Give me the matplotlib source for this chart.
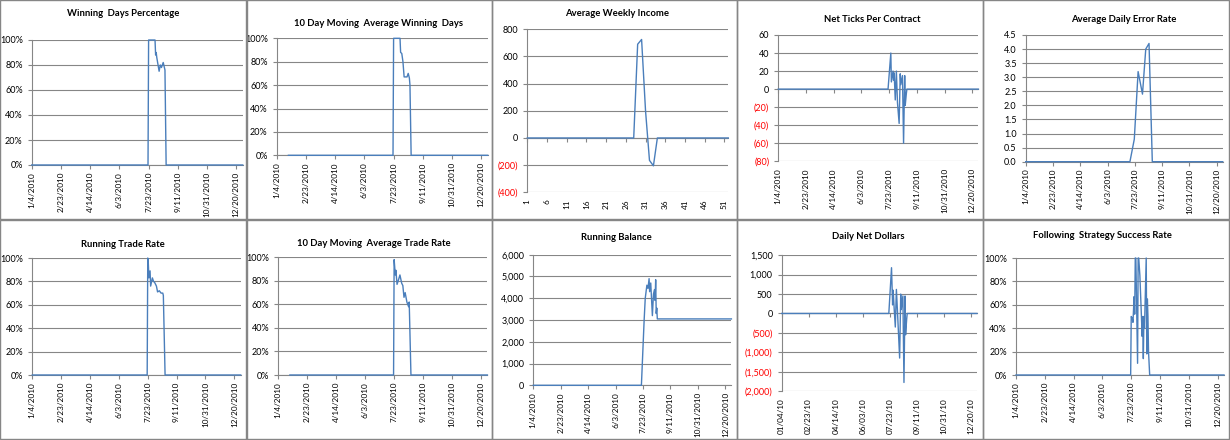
"""
Trading dashboard - ten small Excel-style line panels (2 x 5 grid)
"""

import pandas as pd
import matplotlib
matplotlib.use('Agg')
import matplotlib.pyplot as plt
from matplotlib.patches import Rectangle

plt.rcParams['font.family'] = ['Lato', 'DejaVu Sans']

W, H = 1230, 440
BLUE = '#4A7EBB'
GRID = '#868686'
RED = '#FF0000'
START, END = '2010-01-04', '2010-12-31'

# ── data ──────────────────────────────────────────────────
win_dates = ['2010-01-04', '2010-07-22', '2010-07-23', '2010-08-03', '2010-08-04',
             '2010-08-05', '2010-08-06', '2010-08-10', '2010-08-12', '2010-08-14',
             '2010-08-17', '2010-08-19', '2010-08-20', '2010-08-22', '2010-12-31']
win_pct = [0, 0, 1.00, 1.00, 0.88, 0.90, 0.86, 0.75, 0.80, 0.78, 0.82, 0.78, 0.76, 0, 0]

ma_win_dates = ['2010-01-24', '2010-07-22', '2010-07-23', '2010-08-03', '2010-08-04',
                '2010-08-06', '2010-08-08', '2010-08-10', '2010-08-15', '2010-08-17',
                '2010-08-19', '2010-08-20', '2010-08-22', '2010-12-31']
ma_win_pct = [0, 0, 1.00, 1.00, 0.88, 0.87, 0.80, 0.67, 0.67, 0.70, 0.66, 0.60, 0, 0]

weeks = list(range(1, 53))
weekly_income = [0, 0, 0, 0, 0, 0, 0, 0, 0, 0, 0, 0, 0, 0, 0, 0, 0, 0, 0, 0,
                 0, 0, 0, 0, 0, 0, 0, 0, 690, 725, 200, -165, -205, 0, 0, 0, 0, 0, 0, 0,
                 0, 0, 0, 0, 0, 0, 0, 0, 0, 0, 0, 0]

tick_dates = ['2010-01-04', '2010-07-21', '2010-07-26', '2010-07-27', '2010-07-30',
              '2010-07-31', '2010-08-01', '2010-08-03', '2010-08-05', '2010-08-07',
              '2010-08-10', '2010-08-12', '2010-08-13', '2010-08-16', '2010-08-18',
              '2010-08-20', '2010-08-21', '2010-08-23', '2010-08-24', '2010-12-31']
net_ticks = [0, 0, 40, 8, 20, 10, 18, -12, 20, -15, -38, 17, 5, 15, -60, 15, -18, -5, 0, 0]

error_dates = ['2010-01-04', '2010-07-14', '2010-07-22', '2010-07-29', '2010-08-06',
               '2010-08-12', '2010-08-18', '2010-08-24', '2010-12-31']
error_rate = [0, 0, 0.8, 3.2, 2.4, 4.0, 4.2, 0, 0]

trade_dates = ['2010-01-04', '2010-07-22', '2010-07-23', '2010-07-24', '2010-07-25',
               '2010-07-27', '2010-07-28', '2010-07-31', '2010-08-02', '2010-08-04',
               '2010-08-07', '2010-08-09', '2010-08-12', '2010-08-15', '2010-08-18',
               '2010-08-19', '2010-08-22', '2010-12-31']
trade_rate = [0, 0, 1.00, 0.95, 0.83, 0.89, 0.76, 0.83, 0.80, 0.79, 0.76, 0.71,
              0.72, 0.70, 0.70, 0.68, 0, 0]

ma_trade_dates = ['2010-01-24', '2010-07-22', '2010-07-23', '2010-07-25', '2010-07-26',
                  '2010-07-28', '2010-07-30', '2010-08-02', '2010-08-05', '2010-08-07',
                  '2010-08-09', '2010-08-11', '2010-08-14', '2010-08-17', '2010-08-18',
                  '2010-08-21', '2010-12-31']
ma_trade_rate = [0, 0, 0.98, 0.85, 0.89, 0.77, 0.80, 0.85, 0.78, 0.76, 0.66, 0.70,
                 0.62, 0.58, 0.62, 0, 0]

balance_dates = ['2010-01-04', '2010-07-20', '2010-07-25', '2010-07-27', '2010-07-30',
                 '2010-08-01', '2010-08-03', '2010-08-04', '2010-08-06', '2010-08-09',
                 '2010-08-11', '2010-08-13', '2010-08-14', '2010-08-15', '2010-08-16',
                 '2010-08-17', '2010-08-18', '2010-12-31']
balance = [0, 0, 3000, 4000, 4600, 4450, 4900, 4300, 4700, 3200, 4200, 4400, 3900,
           4850, 3300, 3550, 3050, 3050]

dollar_dates = ['2010-01-04', '2010-07-21', '2010-07-26', '2010-07-28', '2010-07-29',
                '2010-07-31', '2010-08-02', '2010-08-04', '2010-08-06', '2010-08-10',
                '2010-08-12', '2010-08-13', '2010-08-16', '2010-08-18', '2010-08-20',
                '2010-08-21', '2010-08-23', '2010-08-24', '2010-12-31']
net_dollars = [0, 0, 1180, 220, 600, 100, -350, 620, 50, -1150, 500, 100, 450,
               -1780, 450, -550, -150, 0, 0]

strat_dates = ['2010-01-04', '2010-07-22', '2010-07-23', '2010-07-25', '2010-07-26',
               '2010-07-28', '2010-07-29', '2010-07-30', '2010-07-31', '2010-08-03',
               '2010-08-04', '2010-08-05', '2010-08-07', '2010-08-11', '2010-08-12',
               '2010-08-13', '2010-08-14', '2010-08-15', '2010-08-18', '2010-08-19',
               '2010-08-20', '2010-08-21', '2010-08-22', '2010-08-24', '2010-12-31']
strat_rate = [0, 0, 0.50, 0.48, 0.45, 0.67, 0.52, 1.00, 1.00, 0.10, 1.00, 1.00, 0.85,
              0.33, 0.50, 0.14, 0.50, 0.40, 1.00, 0.18, 0.65, 0.50, 0.20, 0, 0]

pct_ticks = [0, 0.2, 0.4, 0.6, 0.8, 1.0]

XLAB = 5.9   # rotated date labels are a touch smaller than the y labels


def paren(v):
    return f"{v:,.0f}" if v >= 0 else f"({-v:,.0f})"


def px_rect(l, t, r, b):
    return [l / W, 1 - b / H, (r - l) / W, (b - t) / H]


def make_panel(fig, box, yticks, ylabels, zero_axis=False):
    ax = fig.add_axes(px_rect(*box))
    ax.set_ylim(yticks[0], yticks[-1])
    ax.set_yticks(yticks)
    ax.set_yticklabels(ylabels)
    ax.yaxis.grid(True, color=GRID, lw=0.8)
    ax.set_axisbelow(True)
    ax.patch.set_visible(False)
    for s in ('top', 'right'):
        ax.spines[s].set_visible(False)
    for s in ('left', 'bottom'):
        ax.spines[s].set_color(GRID)
        ax.spines[s].set_linewidth(0.8)
    ax.tick_params(colors=GRID, labelcolor='black', labelsize=6.5, length=3, width=0.8)
    ax.tick_params(axis='x', labelrotation=90, labelsize=XLAB, pad=2)
    for t, lab in zip(yticks, ax.get_yticklabels()):
        if t < 0:
            lab.set_color(RED)
    lab_ax = ax
    if zero_axis:
        ax.spines['bottom'].set_position(('data', 0))
        ax.tick_params(axis='x', labelbottom=False)
        lab_ax = fig.add_axes(px_rect(*box), sharex=ax)
        lab_ax.patch.set_visible(False)
        lab_ax.set_yticks([])
        for s in lab_ax.spines.values():
            s.set_visible(False)
        lab_ax.tick_params(axis='x', length=0, labelsize=XLAB, labelrotation=90, pad=5)
    return ax, lab_ax


def date_axis(ax, lab_ax, fmt):
    ticks = pd.date_range(START, periods=8, freq='50D')
    ax.set_xlim(pd.Timestamp(START), pd.Timestamp(END))
    ax.set_xticks(ticks)
    lab_ax.set_xticklabels([fmt(d) for d in ticks])


def us_date(d):
    return f"{d.month}/{d.day}/{d.year}"


def line(ax, x, y):
    ax.plot(x, y, color=BLUE, lw=1.0, clip_on=False, zorder=5)


fig = plt.figure(figsize=(W / 100, H / 100), dpi=100)
fig.patch.set_facecolor('white')

# panel frames
cols = [(0, 247), (246, 492), (492, 737), (737, 983), (983, 1229)]
rows = [(0, 219), (220, 439)]
for (t, b) in rows:
    for (l, r) in cols:
        fig.add_artist(Rectangle((l / W, 1 - b / H), (r - l) / W, (b - t) / H,
                                 transform=fig.transFigure, fill=False,
                                 ec=GRID, lw=1.0))

pct_labels = [f"{int(v * 100)}%" for v in pct_ticks]

# row 1 ------------------------------------------------------
ax, la = make_panel(fig, (31.7, 40, 242.7, 165), pct_ticks, pct_labels)
line(ax, pd.to_datetime(win_dates), win_pct)
date_axis(ax, la, us_date)

ax, la = make_panel(fig, (276.7, 38.3, 487.7, 155.3), pct_ticks, pct_labels)
line(ax, pd.to_datetime(ma_win_dates), ma_win_pct)
date_axis(ax, la, us_date)

inc_ticks = [-400, -200, 0, 200, 400, 600, 800]
ax, la = make_panel(fig, (527.3, 29.3, 728.3, 192.3), inc_ticks,
                    [paren(v) for v in inc_ticks], zero_axis=True)
line(ax, weeks, weekly_income)
ax.set_xlim(weeks[0], weeks[-1])
ax.set_xticks(weeks[::5])
la.set_xticklabels([str(w) for w in weeks[::5]])

nt_ticks = [-80, -60, -40, -20, 0, 20, 40, 60]
ax, la = make_panel(fig, (778.3, 35, 978.4, 161.3), nt_ticks,
                    [paren(v) for v in nt_ticks], zero_axis=True)
line(ax, pd.to_datetime(tick_dates), net_ticks)
date_axis(ax, la, us_date)

err_ticks = [0, 0.5, 1.0, 1.5, 2.0, 2.5, 3.0, 3.5, 4.0, 4.5]
ax, la = make_panel(fig, (1025.7, 35, 1222.7, 161.7), err_ticks,
                    [f"{v:.1f}" for v in err_ticks])
line(ax, pd.to_datetime(error_dates), error_rate)
date_axis(ax, la, us_date)

# row 2 ------------------------------------------------------
ax, la = make_panel(fig, (32.3, 258, 240.7, 375), pct_ticks, pct_labels)
line(ax, pd.to_datetime(trade_dates), trade_rate)
date_axis(ax, la, us_date)

ax, la = make_panel(fig, (278.3, 257.3, 487.4, 375), pct_ticks, pct_labels)
line(ax, pd.to_datetime(ma_trade_dates), ma_trade_rate)
date_axis(ax, la, us_date)

bal_ticks = [0, 1000, 2000, 3000, 4000, 5000, 6000]
ax, la = make_panel(fig, (533.3, 254.7, 731.4, 385.3), bal_ticks,
                    [paren(v) for v in bal_ticks])
line(ax, pd.to_datetime(balance_dates), balance)
date_axis(ax, la, us_date)

nd_ticks = [-2000, -1500, -1000, -500, 0, 500, 1000, 1500]
ax, la = make_panel(fig, (781.7, 255.3, 977, 391), nd_ticks,
                    [paren(v) for v in nd_ticks], zero_axis=True)
line(ax, pd.to_datetime(dollar_dates), net_dollars)
date_axis(ax, la, lambda d: d.strftime('%m/%d/%y'))

ax, la = make_panel(fig, (1016, 258, 1224, 375), pct_ticks, pct_labels)
line(ax, pd.to_datetime(strat_dates), strat_rate)
date_axis(ax, la, us_date)

# titles
titles = [("Winning  Days Percentage", 123, 13),
          ("10 Day Moving  Average Winning  Days", 379, 23),
          ("Average Weekly Income", 617, 14),
          ("Net Ticks Per Contract", 872, 19),
          ("Average Daily Error Rate", 1124, 19),
          ("Running Trade Rate", 123, 244),
          ("10 Day Moving  Average Trade Rate", 374, 243),
          ("Running Balance", 616, 237),
          ("Daily Net Dollars", 868, 236),
          ("Following  Strategy Success Rate", 1102, 235)]
for text, x, y in titles:
    fig.text(x / W, 1 - y / H, text, ha='center', va='center',
             fontsize=6.8, fontweight='bold')

plt.savefig('out.png', dpi=100)
plt.close()
